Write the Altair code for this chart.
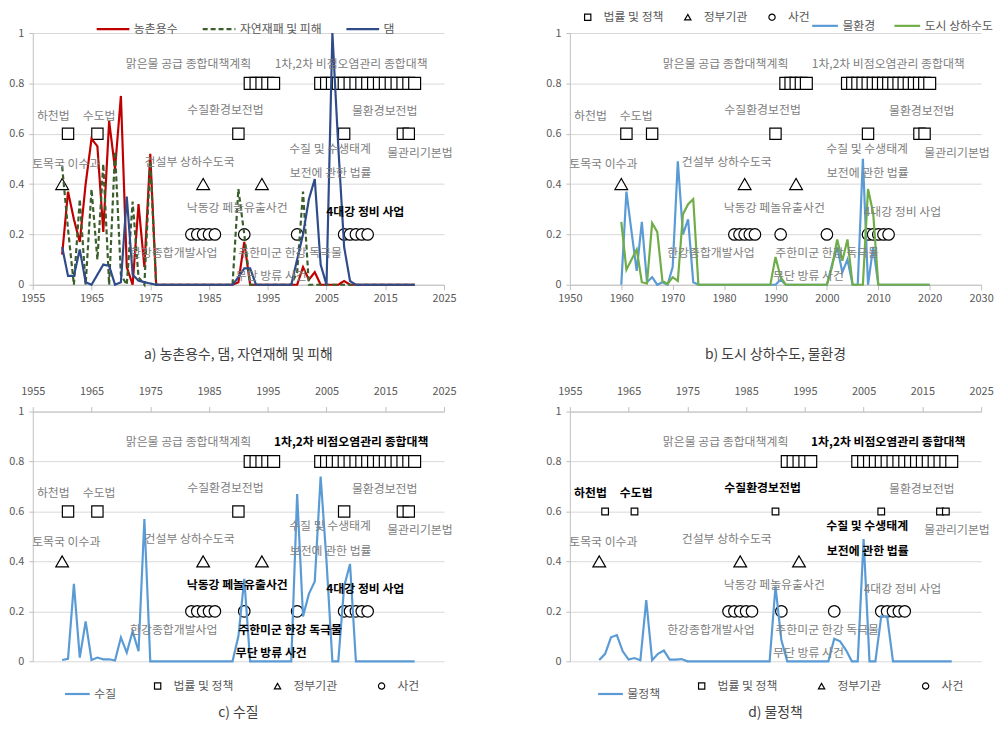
import altair as alt
import pandas as pd

FONT = "Noto Sans CJK KR"
GRAY_TXT = "#808080"
AXIS_TXT = "#595959"
GRID = "#D9D9D9"
AXLINE = "#BFBFBF"

YEARS = list(range(1960, 2021))

# ---- panel a ----
RURAL = [0.12, 0.37, 0.26, 0.17, 0.40, 0.58, 0.55, 0.21, 0.65, 0.46,
         0.75, 0.07, 0.00, 0.32, 0.07, 0.52, 0, 0, 0, 0,
         0, 0, 0, 0, 0, 0, 0, 0, 0, 0,
         0.01, 0.17, 0, 0, 0, 0, 0, 0, 0, 0,
         0, 0.07, 0.02, 0.05, 0, 0, 0, 0, 0.015, 0,
         0, 0, 0, 0, 0, 0, 0, 0, 0, 0,
         0]
DISASTER = [0.47, 0.22, 0, 0.34, 0, 0.38, 0.10, 0.48, 0, 0.53,
            0.04, 0, 0.33, 0.03, 0, 0.49, 0, 0, 0, 0,
            0, 0, 0, 0, 0, 0, 0, 0, 0, 0,
            0.38, 0.20, 0, 0, 0, 0, 0, 0, 0, 0,
            0.05, 0.37, 0, 0, 0, 0, 0, 0, 0, 0,
            0, 0, 0, 0, 0, 0, 0, 0, 0, 0,
            0]
DAM = [0.15, 0.035, 0.035, 0.14, 0.01, 0, 0.04, 0.08, 0.075, 0,
       0.01, 0.35, 0.04, 0.016, 0.01, 0.005, 0, 0, 0, 0,
       0, 0, 0, 0, 0, 0, 0, 0, 0, 0,
       0.03, 0.065, 0.065, 0, 0, 0, 0, 0, 0, 0,
       0.10, 0.20, 0.34, 0.42, 0.08, 0, 1.0, 0.55, 0.15, 0.015,
       0, 0, 0, 0, 0, 0, 0, 0, 0, 0,
       0]
# ---- panel b ----
WATER_ENV = [0, 0.37, 0.21, 0.055, 0.25, 0.01, 0.03, 0, 0.01, 0,
             0.07, 0.49, 0.20, 0.26, 0.01, 0, 0, 0, 0, 0,
             0, 0, 0, 0, 0, 0, 0, 0, 0, 0,
             0, 0.02, 0, 0, 0, 0, 0, 0, 0, 0,
             0, 0.08, 0.15, 0.05, 0.10, 0, 0, 0.50, 0, 0.15,
             0, 0, 0, 0, 0, 0, 0, 0, 0, 0,
             0]
URBAN = [0.25, 0.06, 0.10, 0.14, 0.01, 0.005, 0.245, 0.21, 0.015, 0.003,
         0.03, 0.015, 0.28, 0.32, 0.34, 0, 0, 0, 0, 0,
         0, 0, 0, 0, 0, 0, 0, 0, 0, 0,
         0.11, 0.03, 0, 0, 0, 0, 0, 0, 0, 0,
         0, 0.07, 0.18, 0.095, 0.18, 0, 0, 0, 0.38, 0.285,
         0, 0, 0, 0, 0, 0, 0, 0, 0, 0,
         0]
# ---- panel c ----
QUALITY = [0.005, 0.01, 0.31, 0.015, 0.16, 0.005, 0.015, 0.008, 0.008, 0.003,
           0.095, 0.035, 0.12, 0.04, 0.57, 0, 0, 0, 0, 0,
           0, 0, 0, 0, 0, 0, 0, 0, 0, 0,
           0.10, 0.33, 0, 0, 0, 0, 0, 0, 0, 0,
           0.67, 0.18, 0.27, 0.32, 0.74, 0.40, 0, 0, 0.30, 0.39,
           0, 0, 0, 0, 0, 0, 0, 0, 0, 0,
           0]
# ---- panel d ----
POLICY = [0.005, 0.03, 0.096, 0.105, 0.04, 0.007, 0.013, 0.004, 0.245, 0.004,
          0.03, 0.043, 0.007, 0.007, 0.009, 0, 0, 0, 0, 0,
          0, 0, 0, 0, 0, 0, 0, 0, 0, 0,
          0.30, 0.085, 0, 0, 0, 0, 0, 0, 0, 0,
          0.09, 0.08, 0.045, 0, 0, 0.49, 0, 0, 0.18, 0.18,
          0, 0, 0, 0, 0, 0, 0, 0, 0, 0,
          0]

# ---- event markers ----
KINDS = ["법률 및 정책", "정부기관", "사건"]
LAW80_YEARS = [1992, 1993, 1994, 1995, 1996,
               2004, 2005, 2006, 2007, 2008, 2009, 2010, 2011, 2012,
               2013, 2014, 2015, 2016, 2017, 2018, 2019, 2020]
LAW60_YEARS = [1961, 1966, 1990, 2008, 2018, 2019]
GOV_YEARS = [1960, 1984, 1994]
EVENT_YEARS = [1982, 1983, 1984, 1985, 1986, 1991, 2000, 2008, 2009, 2010, 2011, 2012]

# ---- annotation labels (positions on the 1955-2025 panels) ----
LABEL_TEXT = ["맑은물 공급 종합대책계획", "1차,2차 비점오염관리 종합대책", "하천법", "수도법",
              "수질환경보전법", "물환경보전법", "물관리기본법", "수질 및 수생태계",
              "보전에 관한 법률", "토목국 이수과", "건설부 상하수도국", "낙동강 페놀유출사건",
              "한강종합개발사업", "주한미군 한강 독극물", "무단 방류 사건", "4대강 정비 사업"]
LABEL_X = [1981.5, 2009.2, 1958.5, 1966.3, 1987.8, 2014.9, 2020.9, 2005.6,
           2005.7, 1960.7, 1981.7, 1989.8, 1979.0, 1998.8, 1995.6, 2011.6]
LABEL_Y = [0.878, 0.878, 0.672, 0.672, 0.694, 0.69, 0.525, 0.54,
           0.442, 0.478, 0.488, 0.304, 0.125, 0.126, 0.035, 0.29]

BOLD_A = ["4대강 정비 사업"]
BOLD_B = []
BOLD_C = ["1차,2차 비점오염관리 종합대책", "낙동강 페놀유출사건", "주한미군 한강 독극물",
          "무단 방류 사건", "4대강 정비 사업"]
BOLD_D = ["하천법", "수도법", "수질환경보전법", "1차,2차 비점오염관리 종합대책",
          "수질 및 수생태계", "보전에 관한 법률"]

TICKS_A = [1955, 1965, 1975, 1985, 1995, 2005, 2015, 2025]
TICKS_B = [1950, 1960, 1970, 1980, 1990, 2000, 2010, 2020, 2030]


def marker_df(sq_size):
    rows = []
    for y in LAW80_YEARS:
        rows.append({"year": y, "value": 0.8, "kind": KINDS[0], "sz": 144})
    for y in LAW60_YEARS:
        rows.append({"year": y, "value": 0.6, "kind": KINDS[0], "sz": sq_size})
    for y in GOV_YEARS:
        rows.append({"year": y, "value": 0.4, "kind": KINDS[1], "sz": 165})
    for y in EVENT_YEARS:
        rows.append({"year": y, "value": 0.2, "kind": KINDS[2], "sz": 135})
    return pd.DataFrame(rows)


def key_df():
    # one existing marker of each kind; drawn underneath the real markers,
    # it only carries the legend for the marker kinds
    return pd.DataFrame({"year": [LAW80_YEARS[0], GOV_YEARS[0], EVENT_YEARS[0]],
                         "value": [0.8, 0.4, 0.2], "kind": KINDS})


def label_df(xdom, bold):
    sx = (xdom[1] - xdom[0]) / 70.0
    rows = []
    for t, x, y in zip(LABEL_TEXT, LABEL_X, LABEL_Y):
        rows.append({"label": t, "year": xdom[0] + (x - 1955) * sx, "value": y,
                     "bold": t in bold})
    return pd.DataFrame(rows)


SHAPE_SCALE = alt.Scale(domain=KINDS, range=["square", "triangle-up", "circle"])


def panel(names, series, colors, dashes, xdom, ticks, xorient, h, bold, sq_size,
          line_leg, mark_leg, caption, cap_offset):
    xs = alt.X("year:Q", scale=alt.Scale(domain=xdom, nice=False, zero=False),
               axis=alt.Axis(values=ticks, format="d", orient=xorient, title=None, grid=False,
                             domainColor=AXLINE, tickColor=AXLINE, tickSize=5,
                             labelFlush=False, labelFont=FONT, labelFontSize=11,
                             labelColor=AXIS_TXT,
                             labelPadding=3 if xorient == "bottom" else 10))
    ys = alt.Y("value:Q", scale=alt.Scale(domain=[0, 1], nice=False, zero=False),
               axis=alt.Axis(values=[0, 0.2, 0.4, 0.6, 0.8, 1], format="~g", title=None,
                             grid=True, gridColor=GRID, domainColor=AXLINE, tickColor=AXLINE,
                             tickSize=4, labelFont=FONT, labelFontSize=11,
                             labelFlush=False, labelColor=AXIS_TXT, labelPadding=5))

    rows = []
    for n, vals in zip(names, series):
        for yr, v in zip(YEARS, vals):
            rows.append({"year": yr, "value": v, "series": n})
    sdf = pd.DataFrame(rows)

    layers = []
    if mark_leg is not None:
        layers.append(alt.Chart(key_df()).mark_point(
            filled=False, color="black", strokeWidth=1.2, opacity=1, size=40
        ).encode(x=xs, y=ys, shape=alt.Shape("kind:N", scale=SHAPE_SCALE, legend=mark_leg)))

    layers.append(alt.Chart(marker_df(sq_size)).mark_point(
        filled=True, fill="white", stroke="black", strokeWidth=1.2, opacity=1
    ).encode(
        x=xs, y=ys,
        shape=alt.Shape("kind:N", scale=SHAPE_SCALE, legend=None),
        size=alt.Size("sz:Q", scale=None),
    ))

    enc = dict(x=xs, y=ys,
               color=alt.Color("series:N", scale=alt.Scale(domain=names, range=colors),
                               legend=line_leg))
    if dashes is not None:
        enc["strokeDash"] = alt.StrokeDash("series:N",
                                           scale=alt.Scale(domain=names, range=dashes),
                                           legend=None)
    layers.append(alt.Chart(sdf).mark_line(strokeWidth=2.2).encode(**enc))

    ldf = label_df(xdom, bold)
    layers.append(alt.Chart(ldf).transform_filter("!datum.bold").mark_text(
        font=FONT, fontSize=12, color=GRAY_TXT, align="center", baseline="middle"
    ).encode(x=xs, y=ys, text="label:N"))
    layers.append(alt.Chart(ldf).transform_filter("datum.bold").mark_text(
        font=FONT, fontSize=12, fontWeight="bold", color="black", align="center",
        baseline="middle"
    ).encode(x=xs, y=ys, text="label:N"))

    return alt.layer(*layers).properties(
        width=415, height=h,
        title=alt.TitleParams(caption, orient="bottom", anchor="middle", font=FONT,
                              fontSize=14, fontWeight="normal", color="#404040",
                              offset=cap_offset),
    )


def line_legend(lx, ly, length, pad, dashed=None):
    kw = {}
    if dashed is not None:
        kw["symbolDash"] = {"expr": "datum.value === '%s' ? [5, 3] : [1, 0]" % dashed}
    return alt.Legend(orient="none", legendX=lx, legendY=ly, direction="horizontal",
                      title=None, symbolType="stroke", symbolSize=length * length,
                      symbolStrokeWidth=2.2, labelFont=FONT, labelFontSize=12,
                      labelColor=AXIS_TXT, labelOffset=3, columnPadding=pad, **kw)


def mark_legend(lx, ly, pad):
    return alt.Legend(orient="none", legendX=lx, legendY=ly, direction="horizontal",
                      title=None, symbolSize=40, symbolStrokeWidth=1.2,
                      symbolStrokeColor="black", symbolOpacity=1,
                      labelFont=FONT, labelFontSize=12, labelColor=AXIS_TXT,
                      labelOffset=10, columnPadding=pad)


pa = panel(["농촌용수", "자연재패 및 피해", "댐"], [RURAL, DISASTER, DAM],
           ["#C00000", "#3B5E2B", "#2F4B8A"], [[1, 0], [5, 3], [1, 0]],
           [1955, 2025], TICKS_A, "bottom", 254, BOLD_A, 130,
           line_legend(63, -22, 33, 20, dashed="자연재패 및 피해"), None,
           "a) 농촌용수, 댐, 자연재해 및 피해", 45)
pb = panel(["물환경", "도시 상하수도"], [WATER_ENV, URBAN],
           ["#5B9BD5", "#70AD47"], None,
           [1950, 2030], TICKS_B, "bottom", 254, BOLD_B, 130,
           line_legend(243, -22, 26, 14), mark_legend(12, -22, 18),
           "b) 도시 상하수도, 물환경", 45)
pc = panel(["수질"], [QUALITY], ["#5B9BD5"], None,
           [1955, 2025], TICKS_A, "top", 252, BOLD_C, 130,
           line_legend(31, 271, 25, 14), mark_legend(120, 271, 38),
           "c) 수질", 6)
pd_ = panel(["물정책"], [POLICY], ["#5B9BD5"], None,
            [1955, 2025], TICKS_A, "top", 252, BOLD_D, 45,
            line_legend(27, 271, 25, 14), mark_legend(127, 271, 38),
            "d) 물정책", 6)

chart = alt.concat(pa, pb, pc, pd_, columns=2, bounds="flush",
                   spacing={"row": 128, "column": 127}).properties(
    padding=0
).configure_view(stroke=None).resolve_scale(color="independent", shape="independent")

chart.save("out.html", embed_options={"renderer": "svg", "actions": False})
